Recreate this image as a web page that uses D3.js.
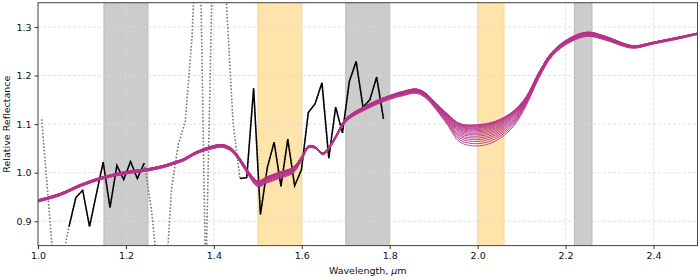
<!DOCTYPE html>
<meta charset='utf-8'>
<body style='margin:0'>
<script src='https://d3js.org/d3.v7.min.js'></script>
<script>

    // measured spectrum (dotted = all points, solid = usable ranges)
    var wl = [1.0083, 1.0239, 1.0394, 1.0550, 1.0705, 1.0861, 1.1016, 1.1172, 1.1327, 1.1483,
              1.1638, 1.1794, 1.1949, 1.2105, 1.2260, 1.2416, 1.2571, 1.2727, 1.2882, 1.3038,
              1.3193, 1.3349, 1.3504, 1.3660, 1.3815, 1.3971, 1.4126, 1.4282, 1.4437, 1.4593,
              1.4748, 1.4904, 1.5059, 1.5215, 1.5370, 1.5526, 1.5681, 1.5837, 1.5992, 1.6148,
              1.6303, 1.6459, 1.6614, 1.6770, 1.6925, 1.7081, 1.7236, 1.7392, 1.7547, 1.7703, 1.7858];
    var refl = [1.11, 0.94, 0.76, 0.82, 0.889, 0.949, 0.964, 0.889, 0.956, 1.022,
                0.928, 1.015, 0.986, 1.023, 0.988, 1.020, 0.93, 0.80, 0.74, 0.969,
                1.059, 1.105, 1.28, 1.62, 0.77, 1.435, 1.60, 1.355, 1.103, 0.988,
                0.990, 1.174, 0.914, 1.010, 1.063, 0.972, 1.069, 0.973, 1.006, 1.124,
                1.142, 1.185, 1.030, 1.135, 1.082, 1.188, 1.229, 1.135, 1.150, 1.197, 1.111];
    var solidRanges = [[1.07, 1.25], [1.45, 1.79]];

    // model family: upper and lower envelope, plus where each model line sits between them
    var modelWl = [1.00, 1.05, 1.10, 1.15, 1.20, 1.25, 1.29, 1.31, 1.33, 1.36, 1.40, 1.42, 1.44, 1.46, 1.48,
                   1.50, 1.52, 1.55, 1.58, 1.60, 1.615, 1.63, 1.648, 1.665, 1.68, 1.70, 1.75, 1.80, 1.83, 1.86, 1.88,
                   1.90, 1.93, 1.96, 2.00, 2.04, 2.08, 2.11, 2.14, 2.17, 2.21, 2.25, 2.29, 2.34, 2.36, 2.40, 2.45, 2.50];
    var modelTop = [0.9445, 0.9575, 0.9775, 0.9925, 1.0025, 1.0085, 1.0165, 1.0225, 1.0285, 1.0435, 1.056, 1.058, 1.0505, 1.029, 1.0015,
                    0.983, 0.9915, 1.0015, 1.011, 1.034, 1.0555, 1.054, 1.041, 1.0575, 1.081, 1.1115, 1.140, 1.159, 1.1675, 1.1725, 1.165,
                    1.148, 1.122, 1.101, 1.099, 1.106, 1.126, 1.156, 1.208, 1.2495, 1.2775, 1.2895, 1.281, 1.264, 1.2615, 1.269, 1.278, 1.2875];
    var modelBottom = [0.9395, 0.9525, 0.9725, 0.9875, 0.9975, 1.0035, 1.0115, 1.0175, 1.0235, 1.0385, 1.050, 1.052, 1.0435, 1.021, 0.9925,
                       0.971, 0.9785, 0.9885, 0.999, 1.026, 1.0505, 1.050, 1.037, 1.0525, 1.075, 1.1045, 1.132, 1.151, 1.1585, 1.1635, 1.155,
                       1.136, 1.100, 1.063, 1.055, 1.065, 1.094, 1.138, 1.196, 1.2405, 1.2685, 1.2805, 1.273, 1.258, 1.2565, 1.265, 1.274, 1.2845];
    var lineDepth = [0, 0.02, 0.04, 0.07, 0.10, 0.14, 0.18, 0.23, 0.28, 0.34, 0.40, 0.47, 0.54, 0.62, 0.70, 0.79, 0.89, 1.0];

    var grayBands = [[1.15, 1.25], [1.70, 1.80], [2.22, 2.26]];
    var orangeBands = [[1.50, 1.60], [2.00, 2.06]];

    var xTicks = [1.0, 1.2, 1.4, 1.6, 1.8, 2.0, 2.2, 2.4];
    var yTicks = [0.9, 1.0, 1.1, 1.2, 1.3];

    var width = 700, height = 280;
    var m = { left: 38, right: 697.5, top: 2.7, bottom: 245.6 };

    var svg = d3.select('body').append('svg')
        .attr('width', width)
        .attr('height', height)
        .style('font-family', 'DejaVu Sans, sans-serif');

    var x = d3.scaleLinear().domain([1.0, 2.5]).range([m.left, m.right]);
    var y = d3.scaleLinear().domain([0.85, 1.35]).range([m.bottom, m.top]);

    svg.append('clipPath').attr('id', 'plot')
        .append('rect')
        .attr('x', m.left).attr('y', m.top)
        .attr('width', m.right - m.left).attr('height', m.bottom - m.top);

    var plot = svg.append('g').attr('clip-path', 'url(#plot)');

    function drawBands(bands, fill, edge){
        plot.selectAll(null)
            .data(bands)
            .enter()
            .append('rect')
            .attr('x', function(d){ return x(d[0]); })
            .attr('y', m.top)
            .attr('width', function(d){ return x(d[1]) - x(d[0]); })
            .attr('height', m.bottom - m.top)
            .attr('fill', fill)
            .attr('stroke', edge)
            .attr('stroke-width', 1);
    }
    drawBands(grayBands, '#cccccc', '#b8b8b8');
    drawBands(orangeBands, '#fee4aa', '#fdd78c');

    // grid
    plot.selectAll(null)
        .data(xTicks)
        .enter()
        .append('line')
        .attr('x1', function(d){ return x(d); })
        .attr('x2', function(d){ return x(d); })
        .attr('y1', m.top).attr('y2', m.bottom)
        .attr('stroke', '#d9d9d9')
        .attr('stroke-width', 0.8)
        .attr('stroke-dasharray', '3,2');

    plot.selectAll(null)
        .data(yTicks)
        .enter()
        .append('line')
        .attr('x1', m.left).attr('x2', m.right)
        .attr('y1', function(d){ return y(d); })
        .attr('y2', function(d){ return y(d); })
        .attr('stroke', '#d9d9d9')
        .attr('stroke-width', 0.8)
        .attr('stroke-dasharray', '3,2');

    // spectrum
    var points = wl.map(function(d, i){ return [d, refl[i]]; });
    var line = d3.line()
        .x(function(d){ return x(d[0]); })
        .y(function(d){ return y(d[1]); });

    plot.append('path')
        .attr('d', line(points))
        .attr('fill', 'none')
        .attr('stroke', '#777')
        .attr('stroke-width', 1.6)
        .attr('stroke-dasharray', '1.6,1.8');

    solidRanges.forEach(function(r){
        var seg = points.filter(function(p){ return p[0] >= r[0] && p[0] <= r[1]; });
        plot.append('path')
            .attr('d', line(seg))
            .attr('fill', 'none')
            .attr('stroke', '#000')
            .attr('stroke-width', 1.5);
    });

    // model lines
    var modelLine = d3.line()
        .x(function(d){ return x(d[0]); })
        .y(function(d){ return y(d[1]); })
        .curve(d3.curveCatmullRom.alpha(0.5));

    plot.selectAll(null)
        .data(lineDepth)
        .enter()
        .append('path')
        .attr('d', function(k){
            return modelLine(modelWl.map(function(w, i){
                return [w, modelTop[i] + k * (modelBottom[i] - modelTop[i])];
            }));
        })
        .attr('fill', 'none')
        .attr('stroke', '#b8338b')
        .attr('stroke-width', 0.9);

    // frame
    svg.append('rect')
        .attr('x', m.left).attr('y', m.top)
        .attr('width', m.right - m.left).attr('height', m.bottom - m.top)
        .attr('fill', 'none')
        .attr('stroke', '#444')
        .attr('stroke-width', 1);

    // axes
    var xAxis = svg.append('g')
        .attr('transform', 'translate(0,' + m.bottom + ')')
        .call(d3.axisBottom(x).tickValues(xTicks).tickFormat(d3.format('.1f')).tickSize(3.5).tickPadding(3));
    var yAxis = svg.append('g')
        .attr('transform', 'translate(' + m.left + ',0)')
        .call(d3.axisLeft(y).tickValues(yTicks).tickFormat(d3.format('.1f')).tickSize(3.5).tickPadding(3));

    [xAxis, yAxis].forEach(function(a){
        a.select('.domain').remove();
        a.selectAll('text').attr('font-size', 9.5).attr('font-family', 'DejaVu Sans, sans-serif').attr('fill', '#111');
        a.selectAll('line').attr('stroke', '#333');
    });

    var xl = svg.append('text')
        .attr('x', (m.left + m.right) / 2)
        .attr('y', 274)
        .attr('text-anchor', 'middle')
        .attr('font-size', 9.5)
        .attr('fill', '#111');
    xl.append('tspan').text('Wavelength, ');
    xl.append('tspan').attr('font-style', 'italic').text('\u03bc');
    xl.append('tspan').text('m');

    svg.append('text')
        .attr('transform', 'translate(10,' + ((m.top + m.bottom) / 2) + ') rotate(-90)')
        .attr('text-anchor', 'middle')
        .attr('font-size', 9.5)
        .attr('fill', '#111')
        .text('Relative Reflectance');

</script>
</body>
</html>
